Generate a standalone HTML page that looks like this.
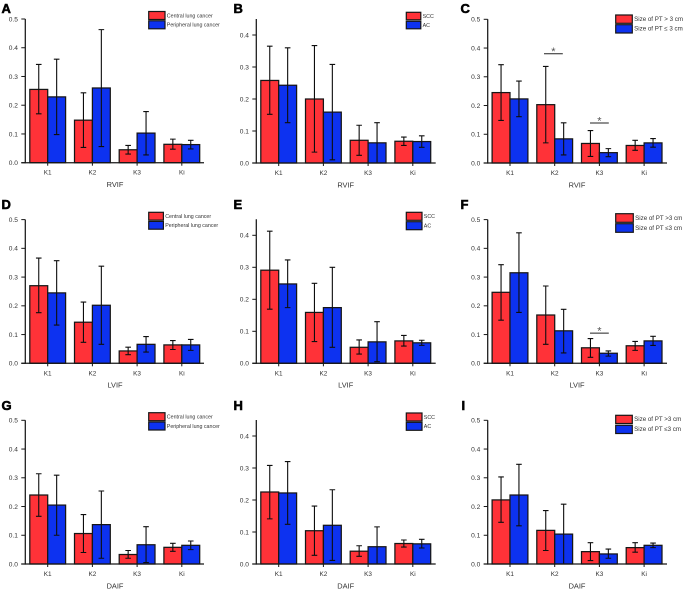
<!DOCTYPE html>
<html lang="en">
<head>
<meta charset="utf-8">
<title>Perfusion parameters by group</title>
<style>
html,body{margin:0;padding:0;background:#fff;width:685px;height:590px;overflow:hidden}
svg{display:block}
text{font-family:"Liberation Sans",Arial,sans-serif}
</style>
</head>
<body>
<svg id="fig" xmlns="http://www.w3.org/2000/svg" width="685" height="590" viewBox="0 0 685 590">
<defs><filter id="soft" x="-2%" y="-2%" width="104%" height="104%"><feGaussianBlur stdDeviation="0.32"/></filter></defs>
<g id="root" filter="url(#soft)"></g>
</svg>
<script>
const categories = ['K1','K2','K3','Ki'];
const ticks5 = ['0.0','0.1','0.2','0.3','0.4','0.5'];
const ticks4 = ['0.0','0.1','0.2','0.3','0.4'];

const aRed = [0.255,0.148,0.045,0.064];
const aRedLow = [0.170,0.053,0.030,0.047];
const aRedHigh = [0.342,0.243,0.060,0.082];
const aBlue = [0.229,0.260,0.103,0.063];
const aBlueLow = [0.098,0.056,0.027,0.048];
const aBlueHigh = [0.360,0.463,0.178,0.078];

const bRed = [0.258,0.200,0.071,0.068];
const bRedLow = [0.152,0.034,0.024,0.055];
const bRedHigh = [0.365,0.367,0.118,0.081];
const bBlue = [0.243,0.159,0.063,0.067];
const bBlueLow = [0.126,0.010,0.000,0.049];
const bBlueHigh = [0.360,0.308,0.126,0.085];

const cRed = [0.245,0.203,0.068,0.061];
const cRedLow = [0.148,0.070,0.023,0.044];
const cRedHigh = [0.342,0.336,0.113,0.079];
const cBlue = [0.223,0.084,0.036,0.070];
const cBlueLow = [0.161,0.028,0.022,0.055];
const cBlueHigh = [0.285,0.140,0.050,0.085];

const dRed = [0.270,0.143,0.043,0.064];
const dRedLow = [0.176,0.073,0.030,0.048];
const dRedHigh = [0.366,0.213,0.056,0.079];
const dBlue = [0.245,0.202,0.066,0.064];
const dBlueLow = [0.133,0.066,0.039,0.045];
const dBlueHigh = [0.357,0.338,0.093,0.083];

const eRed = [0.291,0.159,0.050,0.070];
const eRedLow = [0.169,0.068,0.029,0.054];
const eRedHigh = [0.413,0.250,0.073,0.087];
const eBlue = [0.248,0.174,0.067,0.064];
const eBlueLow = [0.174,0.050,0.005,0.056];
const eBlueHigh = [0.323,0.300,0.130,0.072];

const fRed = [0.247,0.168,0.054,0.061];
const fRedLow = [0.150,0.066,0.021,0.045];
const fRedHigh = [0.343,0.269,0.086,0.076];
const fBlue = [0.315,0.113,0.035,0.078];
const fBlueLow = [0.177,0.036,0.025,0.062];
const fBlueHigh = [0.454,0.188,0.043,0.094];

const gRed = [0.240,0.106,0.033,0.058];
const gRedLow = [0.166,0.040,0.020,0.044];
const gRedHigh = [0.314,0.172,0.047,0.072];
const gBlue = [0.205,0.137,0.067,0.065];
const gBlueLow = [0.100,0.020,0.005,0.050];
const gBlueHigh = [0.309,0.254,0.130,0.080];

const hRed = [0.225,0.104,0.040,0.064];
const hRedLow = [0.141,0.027,0.024,0.053];
const hRedHigh = [0.308,0.181,0.057,0.075];
const hBlue = [0.222,0.121,0.054,0.063];
const hBlueLow = [0.124,0.011,0.000,0.050];
const hBlueHigh = [0.320,0.232,0.116,0.077];

const iRed = [0.223,0.117,0.043,0.057];
const iRedLow = [0.145,0.047,0.012,0.041];
const iRedHigh = [0.303,0.186,0.074,0.074];
const iBlue = [0.240,0.104,0.035,0.065];
const iBlueLow = [0.133,0.000,0.020,0.057];
const iBlueHigh = [0.347,0.208,0.052,0.073];

const locationNames = ['Central lung cancer','Peripheral lung cancer'];
const histologyNames = ['SCC','AC'];
const sizeNamesC = ['Size of PT > 3 cm','Size of PT \u2264 3 cm'];
const sizeNamesF = ['Size of PT >3 cm','Size of PT \u22643 cm'];
const sizeNamesI = ['Size of PT >3 cm','Size of PT \u22643 cm'];

const cSigCategories = [1,2];
const cSigLevels = [0.380,0.139];
const fSigCategories = [2];
const fSigLevels = [0.105];

const NS = 'http://www.w3.org/2000/svg';
const root = document.getElementById('root');
const RED = '#ff3338', BLUE = '#1030f0', INK = '#181818';

function mk(tag, attrs, parent) {
  const el = document.createElementNS(NS, tag);
  for (const k in attrs) el.setAttribute(k, attrs[k]);
  parent.appendChild(el);
  return el;
}

function drawPanel(p) {
  const g = mk('g', {}, root);
  
  

  const yScale = v => p.y0 - v * p.unit;
  const xScale = i => p.k1 + i * 44.7;
  const barW = 17.9;
  const topY = yScale(p.axisMax);

  const letter = mk('text', {x:p.lx, y:p.ly, 'font-size':13, 'font-weight':'bold', fill:'#000', stroke:'#000', 'stroke-width':0.55}, g);
  letter.textContent = p.letter;
  
  

  [[p.red, RED, 0, 'red'], [p.blue, BLUE, 1, 'blue']].forEach(s => {
    s[0].forEach((v, i) => {
      const r = mk('rect', {
        x: xScale(i) - barW + s[2] * barW,
        y: yScale(v),
        width: barW,
        height: p.y0 - yScale(v),
        fill: s[1], stroke: INK, 'stroke-width': 1.25
      }, g);
      
      
    });
  });

  [[p.redLow, p.redHigh, -barW / 2, 'red'], [p.blueLow, p.blueHigh, barW / 2, 'blue']].forEach(s => {
    s[0].forEach((low, i) => {
      const cx = xScale(i) + s[2];
      const yl = yScale(low), yh = yScale(s[1][i]);
      const d = 'M' + cx + ' ' + yl + 'V' + yh + 'M' + (cx - 2.8) + ' ' + yl + 'H' + (cx + 2.8) + 'M' + (cx - 2.8) + ' ' + yh + 'H' + (cx + 2.8);
      const e = mk('path', {d: d, fill: 'none', stroke: '#111', 'stroke-width': 1.1}, g);
      
      
    });
  });

  const yAxis = mk('line', {x1:p.ax, x2:p.ax, y1:topY, y2:p.y0 + 0.6, stroke:INK, 'stroke-width':1.25}, g);
  
  
  const xAxis = mk('line', {x1:p.ax - 4, x2:p.xEnd, y1:p.y0, y2:p.y0, stroke:INK, 'stroke-width':1.25}, g);
  
  

  p.ticks.forEach((label, i) => {
    const v = parseFloat(label);
    const t = mk('line', {x1:p.ax - 4, x2:p.ax, y1:yScale(v), y2:yScale(v), stroke:INK, 'stroke-width':1}, g);
    
    
    const tl = mk('text', {x:p.ax - 7.4, y:yScale(v) + 2.4, 'font-size':6.6, 'text-anchor':'end', fill:'#333'}, g);
    tl.textContent = label;
    
    
  });

  categories.forEach((c, i) => {
    const t = mk('line', {x1:xScale(i), x2:xScale(i), y1:p.y0, y2:p.y0 + 3, stroke:INK, 'stroke-width':1}, g);
    
    
    const tl = mk('text', {x:xScale(i), y:p.y0 + 12, 'font-size':6.4, 'text-anchor':'middle', fill:'#333'}, g);
    tl.textContent = c;
    
    
  });

  const title = mk('text', {x:p.titleX, y:p.y0 + 24.3, 'font-size':7.4, 'text-anchor':'middle', fill:'#333'}, g);
  title.textContent = p.title;
  
  

  p.legendNames.forEach((name, i) => {
    const boxY = p.legY[i];
    const swatch = mk('rect', {x:p.legX, y:boxY, width:p.legW, height:p.legH, fill:i ? BLUE : RED, stroke:INK, 'stroke-width':1.2}, g);
    
    
    const tx = mk('text', {x:p.legX + p.legW + 1.8, y:boxY + p.legH / 2 + 1.8, 'font-size':p.legFont, fill:'#333'}, g);
    tx.textContent = name;
    
    
  });

  (p.sigCats || []).forEach((c, i) => {
    const yy = yScale(p.sigLevels[i]);
    const cx = xScale(c) + (c === 1 && p.letter === 'C' ? -1.3 : 0);
    const line = mk('line', {x1:cx - 9.4, x2:cx + 9.4, y1:yy, y2:yy, stroke:'#222', 'stroke-width':1}, g);
    
    
    const star = mk('text', {x:cx, y:yy + 1.4, 'font-size':11, 'text-anchor':'middle', fill:'#555'}, g);
    star.textContent = '*';
    
    
  });
}

const U5 = 287.4, U4 = 320;

drawPanel({letter:'A', lx:1.5, ly:13, title:'RVIF', titleX:115, ax:25.3, y0:162.7, unit:U5, axisMax:0.5, k1:47.7, xEnd:204, ticks:ticks5,
  red:aRed, redLow:aRedLow, redHigh:aRedHigh, blue:aBlue, blueLow:aBlueLow, blueHigh:aBlueHigh,
  legendNames:locationNames, legX:148.7, legY:[11.5,20.8], legW:16.3, legH:8, legFont:5.3});
drawPanel({letter:'B', lx:233.5, ly:13, title:'RVIF', titleX:345.7, ax:256.3, y0:163, unit:U4, axisMax:0.45, k1:278.7, xEnd:435.7, ticks:ticks4,
  red:bRed, redLow:bRedLow, redHigh:bRedHigh, blue:bBlue, blueLow:bBlueLow, blueHigh:bBlueHigh,
  legendNames:histologyNames, legX:406.3, legY:[12.3,21.3], legW:14.5, legH:7.5, legFont:5.3});
drawPanel({letter:'C', lx:460.5, ly:13, title:'RVIF', titleX:577, ax:487.7, y0:163, unit:U5, axisMax:0.5, k1:510, xEnd:667, ticks:ticks5,
  red:cRed, redLow:cRedLow, redHigh:cRedHigh, blue:cBlue, blueLow:cBlueLow, blueHigh:cBlueHigh,
  legendNames:sizeNamesC, legX:615.7, legY:[15,24.7], legW:16.6, legH:8.3, legFont:6.2,
  sigCats:cSigCategories, sigLevels:cSigLevels});

drawPanel({letter:'D', lx:1.5, ly:209, title:'LVIF', titleX:115, ax:25.3, y0:363.3, unit:U5, axisMax:0.5, k1:47.7, xEnd:204, ticks:ticks5,
  red:dRed, redLow:dRedLow, redHigh:dRedHigh, blue:dBlue, blueLow:dBlueLow, blueHigh:dBlueHigh,
  legendNames:locationNames, legX:148.7, legY:[212.3,221.4], legW:14.7, legH:7.8, legFont:5.3});
drawPanel({letter:'E', lx:233.5, ly:209, title:'LVIF', titleX:345.7, ax:256.3, y0:363.3, unit:U4, axisMax:0.45, k1:278.7, xEnd:435.7, ticks:ticks4,
  red:eRed, redLow:eRedLow, redHigh:eRedHigh, blue:eBlue, blueLow:eBlueLow, blueHigh:eBlueHigh,
  legendNames:histologyNames, legX:406.3, legY:[212.3,221.7], legW:15.7, legH:8, legFont:5.3});
drawPanel({letter:'F', lx:460.5, ly:209, title:'LVIF', titleX:577, ax:487.7, y0:363.3, unit:U5, axisMax:0.5, k1:510, xEnd:667, ticks:ticks5,
  red:fRed, redLow:fRedLow, redHigh:fRedHigh, blue:fBlue, blueLow:fBlueLow, blueHigh:fBlueHigh,
  legendNames:sizeNamesF, legX:615.7, legY:[213.7,223.7], legW:17.6, legH:8.6, legFont:6.2,
  sigCats:fSigCategories, sigLevels:fSigLevels});

drawPanel({letter:'G', lx:1.5, ly:410, title:'DAIF', titleX:115, ax:25.3, y0:564, unit:U5, axisMax:0.5, k1:47.7, xEnd:204, ticks:ticks5,
  red:gRed, redLow:gRedLow, redHigh:gRedHigh, blue:gBlue, blueLow:gBlueLow, blueHigh:gBlueHigh,
  legendNames:locationNames, legX:148.7, legY:[412.7,422], legW:16.3, legH:8, legFont:5.3});
drawPanel({letter:'H', lx:233.5, ly:410, title:'DAIF', titleX:345.7, ax:256.3, y0:564, unit:U4, axisMax:0.45, k1:278.7, xEnd:435.7, ticks:ticks4,
  red:hRed, redLow:hRedLow, redHigh:hRedHigh, blue:hBlue, blueLow:hBlueLow, blueHigh:hBlueHigh,
  legendNames:histologyNames, legX:406.3, legY:[413,422.3], legW:15.7, legH:8, legFont:5.3});
drawPanel({letter:'I', lx:461.5, ly:410, title:'DAIF', titleX:577, ax:487.7, y0:564, unit:U5, axisMax:0.5, k1:510, xEnd:667, ticks:ticks5,
  red:iRed, redLow:iRedLow, redHigh:iRedHigh, blue:iBlue, blueLow:iBlueLow, blueHigh:iBlueHigh,
  legendNames:sizeNamesI, legX:615.7, legY:[415.3,425.3], legW:16.6, legH:8.2, legFont:6.2});
</script>
</body>
</html>
